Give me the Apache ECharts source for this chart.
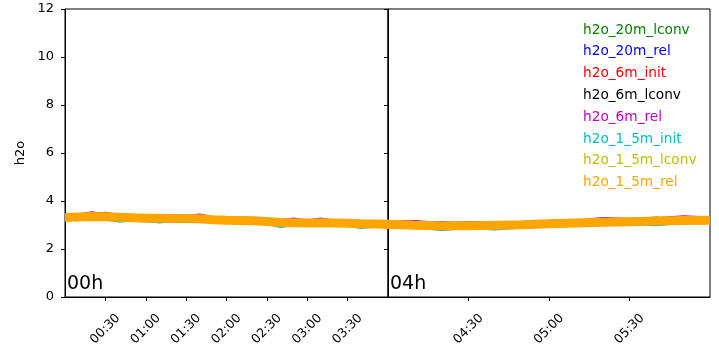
<!DOCTYPE html>
<html>
<head>
<meta charset="utf-8">
<script src="https://cdn.jsdelivr.net/npm/echarts@6/dist/echarts.min.js"></script>
<style>
  html, body { margin: 0; padding: 0; background: #fff; }
  #chart { width: 719px; height: 350px; }
</style>
</head>
<body>
<div id="chart"></div>
<script>
// Sample times (10-minute steps) shared by every series
const times = ['00:00','00:10','00:20','00:30','00:40','00:50','01:00','01:10','01:20','01:30',
  '01:40','01:50','02:00','02:10','02:20','02:30','02:40','02:50','03:00','03:10','03:20',
  '03:30','03:40','03:50','04:00','04:10','04:20','04:30','04:40','04:50','05:00','05:10',
  '05:20','05:30','05:40','05:50','06:00'];

const h2o_20m_lconv = [3.35,3.37,3.39,3.38,3.36,3.34,3.32,3.32,3.31,3.31,3.30,3.26,3.24,3.23,3.22,3.19,3.14,3.13,3.12,3.13,3.12,3.11,3.09,3.08,3.07,3.03,3.01,3.01,3.03,3.05,3.09,3.12,3.15,3.18,3.21,3.23,3.24];
const h2o_20m_rel   = [3.39,3.41,3.43,3.42,3.40,3.38,3.36,3.36,3.35,3.35,3.34,3.30,3.28,3.27,3.26,3.23,3.18,3.17,3.16,3.17,3.16,3.15,3.13,3.12,3.11,3.07,3.14,3.05,3.07,3.09,3.13,3.16,3.19,3.22,3.25,3.27,3.28];
const h2o_6m_init   = [3.41,3.43,3.45,3.52,3.42,3.40,3.38,3.38,3.37,3.37,3.36,3.32,3.30,3.29,3.28,3.25,3.20,3.19,3.18,3.19,3.18,3.17,3.15,3.14,3.13,3.09,3.07,3.14,3.09,3.11,3.15,3.18,3.21,3.24,3.27,3.29,3.30];
const h2o_6m_lconv  = [3.37,3.39,3.41,3.40,3.38,3.36,3.34,3.34,3.33,3.43,3.32,3.28,3.26,3.25,3.24,3.21,3.16,3.15,3.14,3.15,3.14,3.13,3.11,3.10,3.09,3.05,3.03,3.03,3.05,3.07,3.11,3.14,3.17,3.20,3.23,3.25,3.26];
const h2o_6m_rel    = [3.43,3.45,3.54,3.46,3.44,3.42,3.40,3.40,3.39,3.39,3.45,3.34,3.32,3.31,3.30,3.27,3.22,3.28,3.20,3.28,3.20,3.19,3.17,3.16,3.15,3.18,3.09,3.09,3.11,3.13,3.17,3.20,3.30,3.26,3.29,3.38,3.32];
const h2o_1_5m_init = [3.19,3.21,3.23,3.22,3.13,3.18,3.16,3.09,3.15,3.15,3.14,3.10,3.08,3.07,3.06,3.03,2.91,2.97,2.96,2.97,2.96,2.95,2.86,2.92,2.91,2.87,2.78,2.85,2.80,2.89,2.93,2.96,2.99,3.02,2.98,3.07,3.08];
const h2o_1_5m_lconv= [3.33,3.35,3.37,3.36,3.34,3.32,3.30,3.30,3.29,3.29,3.28,3.24,3.22,3.21,3.20,3.17,3.12,3.11,3.10,3.11,3.10,3.09,3.07,3.06,3.05,3.01,2.99,2.99,3.01,3.03,3.07,3.10,3.13,3.16,3.34,3.21,3.22];
const h2o_1_5m_rel  = [3.31,3.33,3.35,3.34,3.32,3.30,3.28,3.28,3.27,3.27,3.26,3.22,3.20,3.19,3.18,3.15,3.10,3.09,3.08,3.09,3.08,3.07,3.05,3.04,3.03,2.99,2.97,2.97,2.99,3.01,3.05,3.08,3.11,3.14,3.17,3.19,3.20];

// Panel labels and y-axis ticks
const panelLabels = ['00h', '04h'];
const yTicks = [0, 2, 4, 6, 8, 10, 12];

const seriesDefs = [
  { name: 'h2o_20m_lconv',  data: h2o_20m_lconv,  color: '#008000', width: 1.5 },
  { name: 'h2o_20m_rel',    data: h2o_20m_rel,    color: '#0000ff', width: 1.5 },
  { name: 'h2o_6m_init',    data: h2o_6m_init,    color: '#ff0000', width: 1.5 },
  { name: 'h2o_6m_lconv',   data: h2o_6m_lconv,   color: '#000000', width: 1.5 },
  { name: 'h2o_6m_rel',     data: h2o_6m_rel,     color: '#bf00bf', width: 1.5 },
  { name: 'h2o_1_5m_init',  data: h2o_1_5m_init,  color: '#00bfbf', width: 1.5 },
  { name: 'h2o_1_5m_lconv', data: h2o_1_5m_lconv, color: '#bfbf00', width: 1.5 },
  { name: 'h2o_1_5m_rel',   data: h2o_1_5m_rel,   color: '#ffa500', width: 9 }
];

function toMinutes(t) {
  const p = t.split(':');
  return Number(p[0]) * 60 + Number(p[1]);
}
function fmtTime(m) {
  const h = Math.floor(m / 60), mm = m % 60;
  return String(h).padStart(2, '0') + ':' + String(mm).padStart(2, '0');
}

const font = 'DejaVu Sans';
const panels = [
  { left: 65, width: 323, min: 0, max: 240 },
  { left: 388, width: 322, min: 240, max: 360 }
];

const grids = panels.map(p => ({
  left: p.left, width: p.width, top: 9, height: 288,
  show: true, borderColor: '#000', borderWidth: 1, backgroundColor: 'transparent'
}));

const xAxes = panels.map((p, i) => ({
  type: 'value', gridIndex: i, min: p.min, max: p.max, interval: 30,
  axisLine: { show: true, lineStyle: { color: '#000', width: 1 } },
  axisTick: { show: true, length: 4, lineStyle: { color: '#000' } },
  splitLine: { show: false },
  axisLabel: {
    rotate: 45, align: 'center', verticalAlign: 'middle', margin: 32,
    showMinLabel: false, showMaxLabel: false,
    fontFamily: font, fontSize: 12.6, color: '#000',
    formatter: v => fmtTime(v)
  }
}));

const yAxes = panels.map((p, i) => ({
  type: 'value', gridIndex: i, min: yTicks[0], max: yTicks[yTicks.length - 1], interval: 2,
  name: i === 0 ? 'h2o' : '', nameLocation: 'middle', nameGap: 38,
  nameTextStyle: { fontFamily: font, fontSize: 13, color: '#000' },
  axisLine: { show: true, lineStyle: { color: '#000', width: 1 } },
  axisTick: { show: true, length: 4, lineStyle: { color: '#000' } },
  splitLine: { show: false },
  axisLabel: {
    show: i === 0, margin: 11,
    fontFamily: font, fontSize: 13, color: '#000'
  }
}));

const series = [];
panels.forEach((p, gi) => {
  seriesDefs.forEach(s => {
    series.push({
      name: s.name, type: 'line', xAxisIndex: gi, yAxisIndex: gi,
      showSymbol: false, symbol: 'none', clip: true,
      lineStyle: { color: s.color, width: s.width },
      itemStyle: { color: s.color },
      emphasis: { disabled: true },
      data: times.map((t, k) => [toMinutes(t), s.data[k]])
    });
  });
});

const chart = echarts.init(document.getElementById('chart'), null, { renderer: 'canvas' });
chart.setOption({
  animation: false,
  backgroundColor: '#fff',
  grid: grids,
  xAxis: xAxes,
  yAxis: yAxes,
  legend: {
    orient: 'vertical', left: 573, top: 18,
    icon: 'none', itemWidth: 0, itemHeight: 14, itemGap: 7.8,
    selectedMode: false,
    data: seriesDefs.map(s => ({ name: s.name, textStyle: { color: s.color } })),
    textStyle: { fontFamily: font, fontSize: 13.7 }
  },
  graphic: panels.map((p, i) => ({
    type: 'text', left: p.left + 2, top: 275,
    style: { text: panelLabels[i], fontFamily: font, fontSize: 19, fill: '#000' }
  })),
  series: series
});
</script>
</body>
</html>
